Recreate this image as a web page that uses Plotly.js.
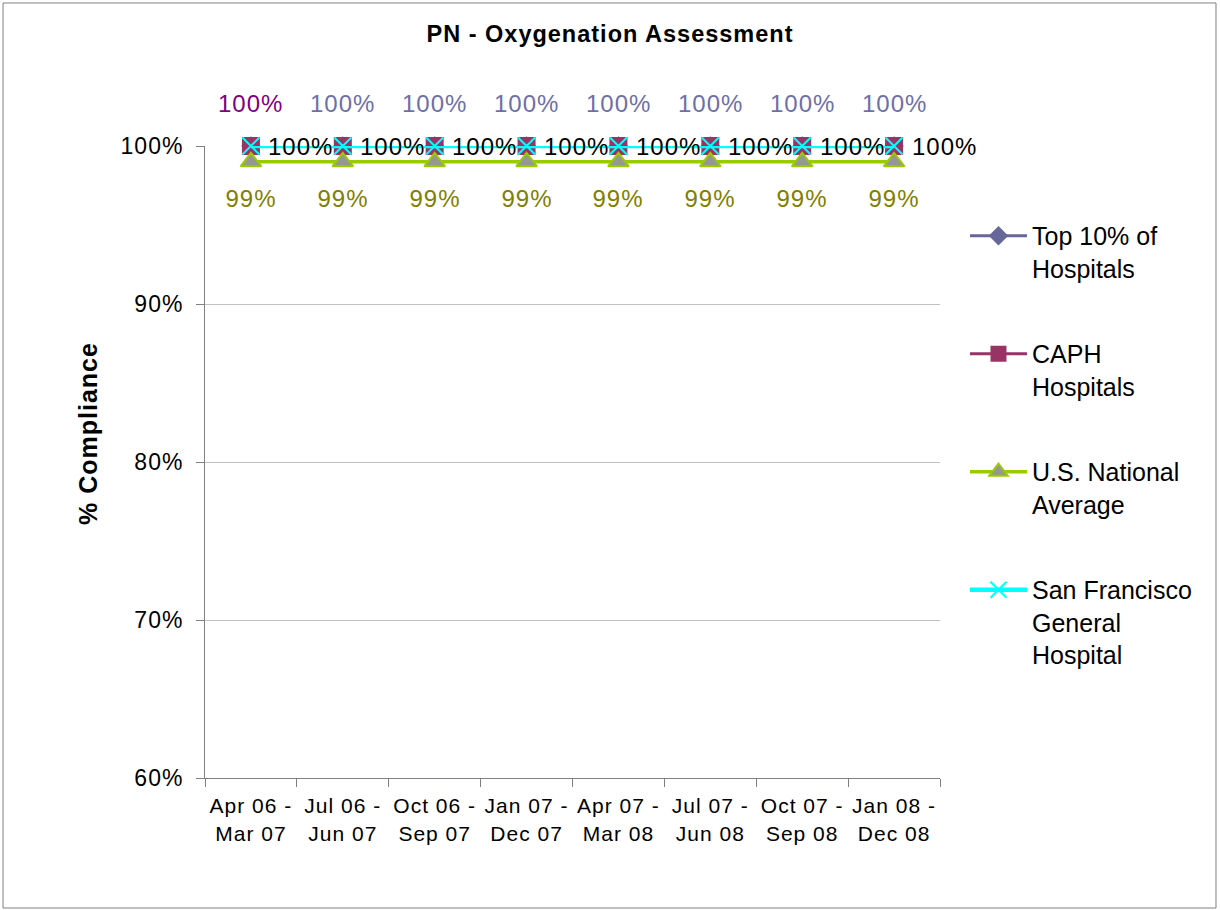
<!DOCTYPE html>
<html>
<head>
<meta charset="utf-8">
<script src="https://cdn.plot.ly/plotly-3.0.1.min.js"></script>
<style>
html,body{margin:0;padding:0;background:#fff;}
#chart svg text{letter-spacing:1px;}
#chart svg .legend text{letter-spacing:0;}
</style>
</head>
<body>
<div id="chart" style="width:1220px;height:910px;"></div>
<script>
const categories = ["Apr 06 -<br>Mar 07","Jul 06 -<br>Jun 07","Oct 06 -<br>Sep 07","Jan 07 -<br>Dec 07","Apr 07 -<br>Mar 08","Jul 07 -<br>Jun 08","Oct 07 -<br>Sep 08","Jan 08 -<br>Dec 08"];
const top10 = [100,100,100,100,100,100,100,100];
const caph = [100,100,100,100,100,100,100,100];
const usNational = [99,99,99,99,99,99,99,99];
const sfgh = [100,100,100,100,100,100,100,100];
const seriesNames = ["Top 10% of<br>Hospitals","CAPH<br>Hospitals","U.S. National<br>Average","San Francisco<br>General<br>Hospital"];
const yTicks = [60,70,80,90,100];

const font = "Liberation Sans, Arial, sans-serif";
const fmt = v => Math.round(v) + "%";

const traces = [
  {x: categories, y: top10, name: seriesNames[0], legendgroup: "g1", mode: "lines+markers", cliponaxis: false,
   line: {color: "#666699", width: 3}, marker: {symbol: "diamond", size: 15, color: "#666699"}},
  {x: categories, y: caph, name: seriesNames[1], legendgroup: "g2", mode: "lines+markers", cliponaxis: false,
   line: {color: "#993366", width: 3}, marker: {symbol: "square", size: 18, color: "#993366"}},
  {x: categories, y: usNational, name: seriesNames[2], legendgroup: "g3", mode: "lines+markers", cliponaxis: false,
   line: {color: "#99CC00", width: 3.5}, marker: {symbol: "triangle-up", size: 18, color: "#969696", line: {color: "#99CC00", width: 2}}},
  {x: categories, y: sfgh, name: seriesNames[3], legendgroup: "g4", mode: "lines+markers", cliponaxis: false,
   line: {color: "#00FFFF", width: 4.5}, marker: {symbol: "x-thin-open", size: 17, color: "#00FFFF", line: {color: "#00FFFF", width: 2}}}
];

const annotations = [];
categories.forEach((c, i) => {
  annotations.push({x: c, y: top10[i], xref: "x", yref: "y", text: fmt(top10[i]), showarrow: false,
    yshift: 43, font: {family: font, size: 24, color: i === 0 ? "#800080" : "#6E6EA8"}});
  annotations.push({x: c, y: sfgh[i], xref: "x", yref: "y", text: fmt(sfgh[i]), showarrow: false,
    xshift: 50, font: {family: font, size: 24, color: "#000000"}});
  annotations.push({x: c, y: usNational[i], xref: "x", yref: "y", text: fmt(usNational[i]), showarrow: false,
    yshift: -37, font: {family: font, size: 24, color: "#808000"}});
});
annotations.push({xref: "paper", yref: "paper", x: (88 - 205) / 735, y: (778 - 434) / 632,
  xanchor: "center", yanchor: "middle", textangle: -90, showarrow: false,
  text: "<b>% Compliance</b>", font: {family: font, size: 25, color: "#000"}});

const layout = {
  width: 1220, height: 910,
  margin: {l: 205, r: 280, t: 146, b: 132},
  paper_bgcolor: "#ffffff", plot_bgcolor: "#ffffff",
  font: {family: font, size: 16, color: "#000"},
  title: {text: "<b>PN - Oxygenation Assessment</b>", x: 0.5, xanchor: "center", y: 0.963, yanchor: "middle",
          font: {family: font, size: 23.5, color: "#000"}},
  xaxis: {type: "category", tickson: "boundaries", ticks: "outside", ticklen: 8, tickcolor: "#808080",
          showline: true, linecolor: "#808080", linewidth: 1, showgrid: false,
          ticklabelstandoff: 9,
          tickfont: {family: font, size: 21, color: "#000"}, range: [-0.5, 7.5], fixedrange: true},
  yaxis: {range: [60, 100], tickvals: yTicks, ticktext: yTicks.map(fmt), ticks: "outside", ticklen: 8,
          tickcolor: "#808080", showline: true, linecolor: "#808080", linewidth: 1,
          showgrid: true, gridcolor: "#C0C0C0", gridwidth: 1, zeroline: false,
          ticklabelstandoff: 8,
          tickfont: {family: font, size: 23, color: "#000"}},
  legend: {x: 1.034, xanchor: "left", y: 0.894, yanchor: "top", tracegroupgap: 50, valign: "top",
           font: {family: font, size: 25, color: "#000"}, bgcolor: "rgba(0,0,0,0)", itemwidth: 57},
  showlegend: true,
  annotations: annotations,
  shapes: [{type: "rect", xref: "paper", yref: "paper", x0: -0.2748, x1: 1.3755, y0: -0.2057, y1: 1.2263,
            line: {color: "#808080", width: 1}, fillcolor: "rgba(0,0,0,0)", layer: "below"}]
};

Plotly.newPlot("chart", traces, layout, {displayModeBar: false, staticPlot: true});
</script>
</body>
</html>
